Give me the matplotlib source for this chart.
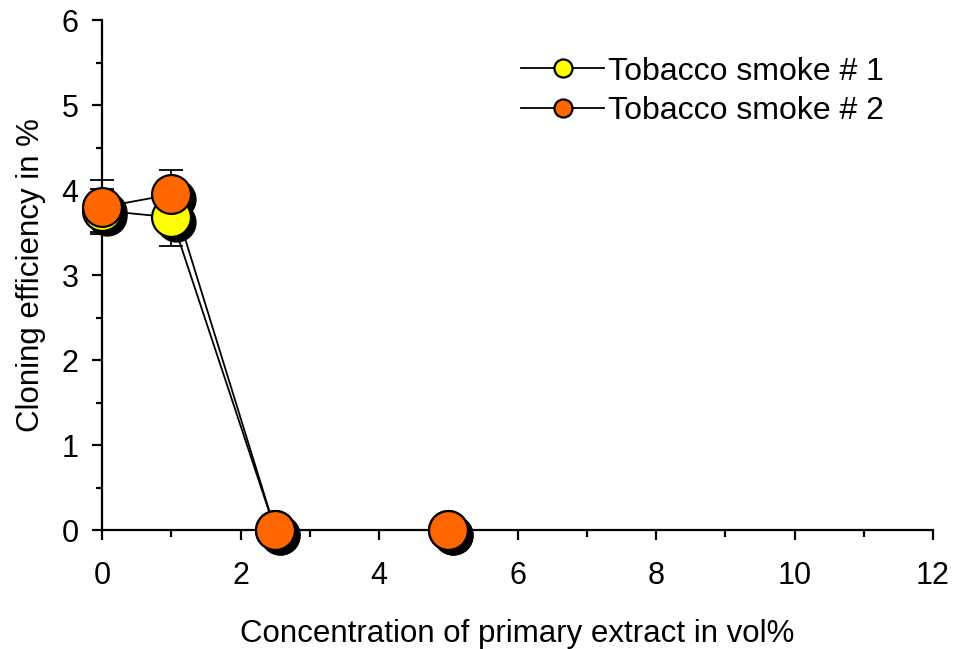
import matplotlib.pyplot as plt
import matplotlib.transforms as mtransforms
from matplotlib.ticker import MultipleLocator

plt.rcParams['font.family'] = ['Liberation Sans', 'DejaVu Sans']

conc = [0, 1, 2.5, 5]
smoke1 = [3.76, 3.68, 0, 0]
smoke1_err = [0.25, 0.34, 0, 0]
smoke2 = [3.80, 3.95, 0, 0]
smoke2_err = [0.32, 0.29, 0, 0]

fig = plt.figure(figsize=(9.55, 6.49), dpi=100)
ax = fig.add_axes([0.107, 0.183, 0.870, 0.786])

shadow = mtransforms.offset_copy(ax.transData, fig=fig, x=5, y=-5, units='dots')

for y, err, col, lab in [(smoke1, smoke1_err, '#ffff00', 'Tobacco smoke # 1'),
                         (smoke2, smoke2_err, '#ff6600', 'Tobacco smoke # 2')]:
    ax.errorbar(conc, y, yerr=err, fmt='none', ecolor='black', elinewidth=1.3,
                capsize=8.5, capthick=1.3, zorder=1, clip_on=False)
    ax.plot(conc, y, color='black', lw=1.3, zorder=2)
    ax.plot(conc, y, 'o', color='black', ms=28, mec='black', transform=shadow,
            zorder=3, clip_on=False)
    ax.plot(conc, y, 'o', color=col, ms=28, mec='black', mew=1.6, zorder=4,
            clip_on=False)
    ax.plot([], [], '-o', color='black', mfc=col, mec='black', ms=13, mew=1.6,
            lw=1.3, label=lab)

ax.set_xlim(0, 12)
ax.set_ylim(0, 6)
ax.xaxis.set_major_locator(MultipleLocator(2))
ax.xaxis.set_minor_locator(MultipleLocator(1))
ax.yaxis.set_major_locator(MultipleLocator(1))
ax.yaxis.set_minor_locator(MultipleLocator(0.5))
ax.spines['top'].set_visible(False)
ax.spines['right'].set_visible(False)
for s in ['left', 'bottom']:
    ax.spines[s].set_linewidth(1.6)
ax.tick_params(which='both', direction='out', width=1.6, labelsize=22)
ax.tick_params(axis='x', which='major', length=7, pad=15)
ax.tick_params(axis='x', which='minor', length=5)
ax.tick_params(axis='y', which='major', length=7, pad=10)
ax.tick_params(axis='y', which='minor', length=4.5)

ax.set_xlabel('Concentration of primary extract in vol%', fontsize=22.5, labelpad=20)
ax.set_ylabel('Cloning efficiency in %', fontsize=22.5, labelpad=11)

ax.legend(loc='upper right', frameon=False, fontsize=23, handlelength=2.6,
          handletextpad=0.1, labelspacing=0.3, bbox_to_anchor=(0.975, 0.985))

fig.savefig('out.png', dpi=100)
